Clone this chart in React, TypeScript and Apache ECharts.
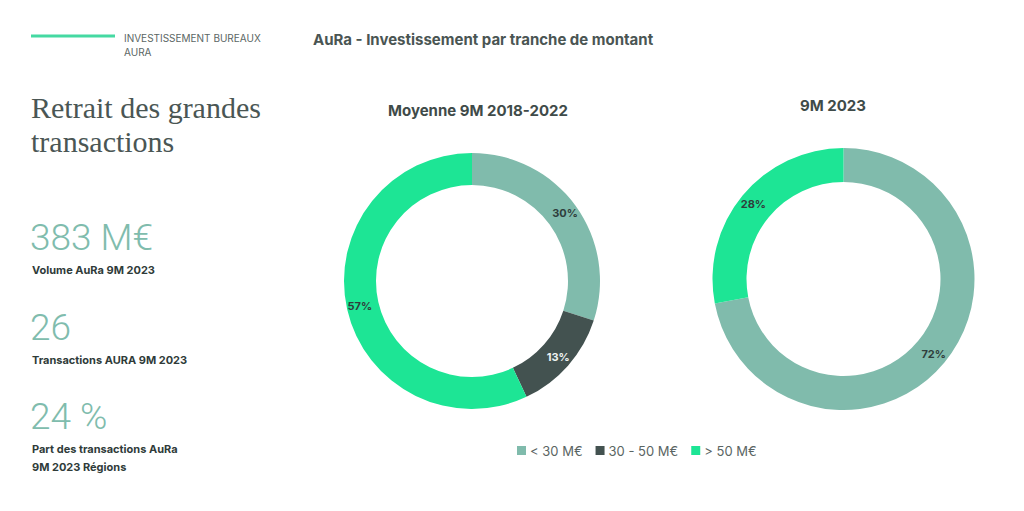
import React, { useEffect, useRef } from "react";
import * as echarts from "echarts";

const categories = ["< 30 M€", "30 - 50 M€", "> 50 M€"];
const moyenne2018_2022 = [30, 13, 57];
const neufM2023 = [72, 0, 28];
const colors = ["#80bbac", "#435250", "#1de595"];
const labelColors = ["#2f3e3c", "#eef3f2", "#2f3e3c"];
const chartTitle = "AuRa - Investissement par tranche de montant";
const pieTitles = ["Moyenne 9M 2018-2022", "9M 2023"];
const kpiValues = ["383 M€", "26", "24 %"];
const kpiLabels = ["Volume AuRa 9M 2023", "Transactions AURA 9M 2023", "Part des transactions AuRa\n9M 2023 Régions"];

const SANS = "Inter, Roboto, 'Noto Sans', sans-serif";
const LIGHT = "Roboto, 'Noto Sans', sans-serif";

export default function App() {
  const ref = useRef<HTMLDivElement>(null);
  useEffect(() => {
    document.body.style.margin = "0";
    const chart = echarts.init(ref.current!, null, { renderer: "svg" });
    const mk = (vals: number[]) =>
      vals.map((v, i) => ({
        name: categories[i],
        value: v,
        itemStyle: { color: colors[i] },
        label: { color: labelColors[i] },
      }));
    const kpiY = [237, 327, 416];
    const graphic: any[] = [
      { type: "line", shape: { x1: 31, y1: 36, x2: 115, y2: 36 }, style: { stroke: "#45d9a2", lineWidth: 3 } },
      { type: "text", x: 124, y: 31, style: { text: "INVESTISSEMENT BUREAUX\nAURA", fill: "#5b6664", font: `400 10px ${SANS}`, lineHeight: 14 } },
      { type: "text", x: 31, y: 90, style: { text: "Retrait des grandes\ntransactions", fill: "#4a5654", font: `400 30px 'Liberation Serif', serif`, lineHeight: 34 } },
    ];
    kpiValues.forEach((t, i) => {
      graphic.push({ type: "text", x: 30, y: kpiY[i], style: { text: t, fill: "#80bcad", font: `300 37px ${LIGHT}`, verticalAlign: "middle" } });
      graphic.push({ type: "text", x: 32, y: kpiY[i] + 24, style: { text: kpiLabels[i], fill: "#2f3b39", font: `700 11px ${SANS}`, lineHeight: 18 } });
    });
    chart.setOption({
      animation: false,
      title: [
        { text: chartTitle, left: 313, top: 32, padding: 0, textStyle: { fontFamily: SANS, fontSize: 15, fontWeight: 700, color: "#4a5553" } },
        { text: pieTitles[0], left: 478, top: 103, padding: 0, textAlign: "center", textStyle: { fontFamily: SANS, fontSize: 15, fontWeight: 700, color: "#3f4b49" } },
        { text: pieTitles[1], left: 833, top: 98, padding: 0, textAlign: "center", textStyle: { fontFamily: SANS, fontSize: 15, fontWeight: 700, color: "#3f4b49" } },
      ],
      legend: {
        data: categories,
        left: 517,
        top: 444,
        padding: 0,
        icon: "rect",
        itemWidth: 9,
        itemHeight: 9,
        itemGap: 13,
        selectedMode: false,
        textStyle: { fontFamily: SANS, fontSize: 13, color: "#5a6563", padding: [0, 0, 0, -1] },
      },
      graphic,
      series: [
        {
          type: "pie",
          center: [472, 281],
          radius: [96, 128],
          startAngle: 90,
          clockwise: true,
          data: mk(moyenne2018_2022),
          label: { show: true, position: "inside", formatter: (p: any) => (p.value ? p.value + "%" : ""), fontFamily: SANS, fontSize: 11, fontWeight: 700 },
          labelLine: { show: false },
          emphasis: { disabled: true },
        },
        {
          type: "pie",
          center: [843.5, 279],
          radius: [97, 131],
          startAngle: 90,
          clockwise: true,
          data: mk(neufM2023),
          label: { show: true, position: "inside", formatter: (p: any) => (p.value ? p.value + "%" : ""), fontFamily: SANS, fontSize: 11, fontWeight: 700 },
          labelLine: { show: false },
          emphasis: { disabled: true },
        },
      ],
    });
    return () => chart.dispose();
  }, []);
  return <div ref={ref} style={{ width: 1024, height: 511 }} />;
}
